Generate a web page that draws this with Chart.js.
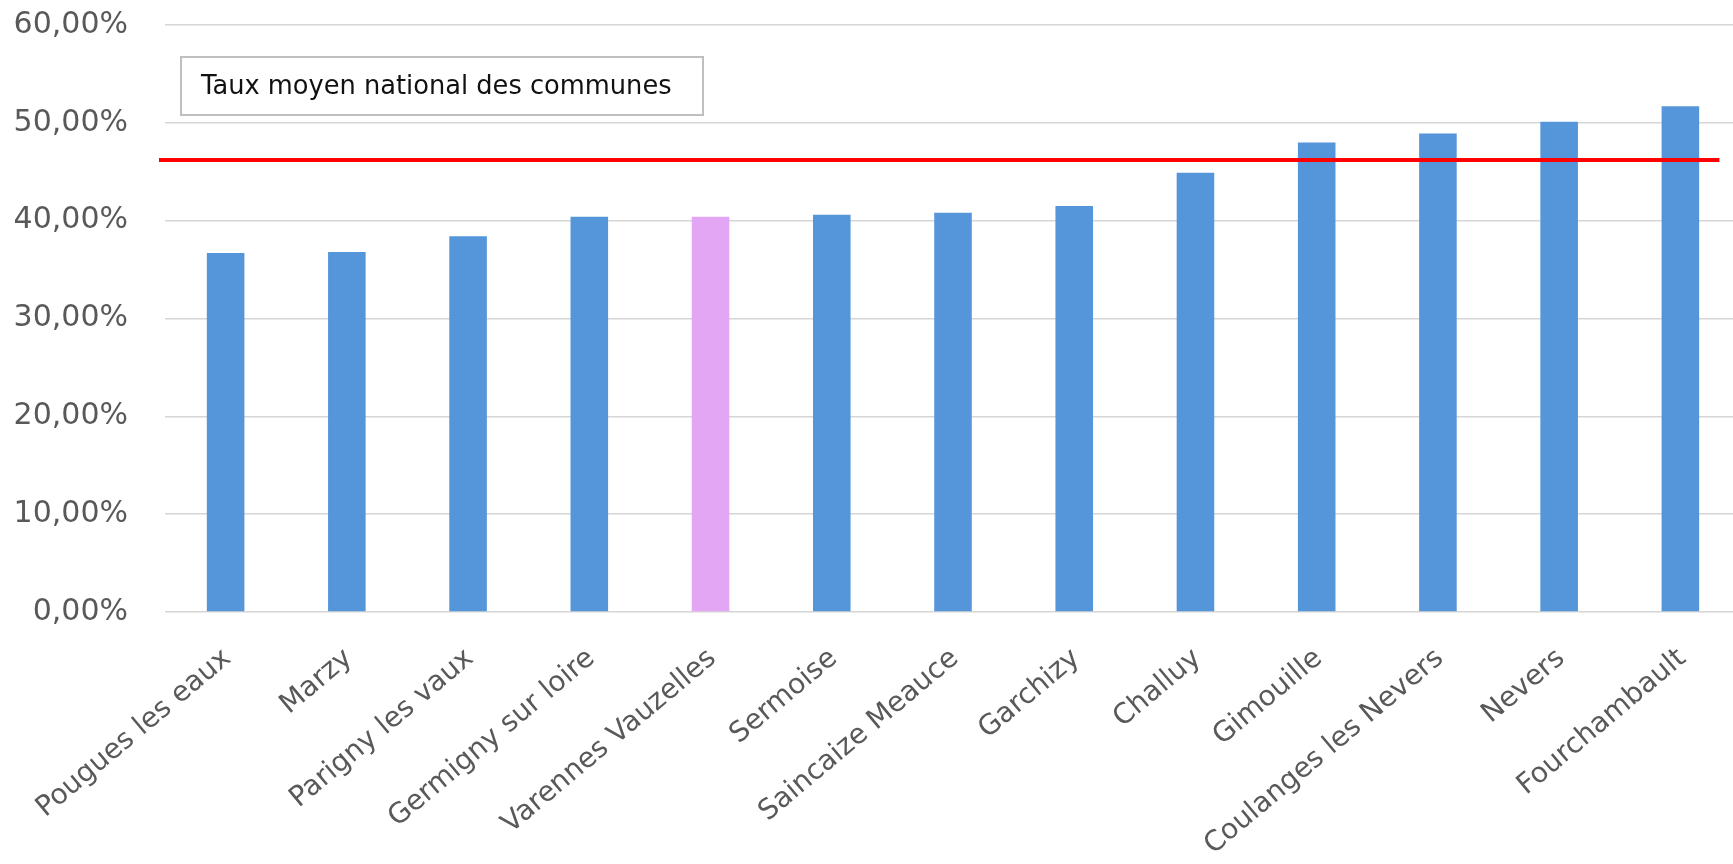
<!DOCTYPE html>
<html>
<head>
<meta charset="utf-8">
<script src="https://cdn.jsdelivr.net/npm/chart.js@4/dist/chart.umd.min.js"></script>
<style>
  html, body { margin: 0; padding: 0; background: #ffffff; overflow: hidden; }
  #wrap { position: relative; width: 1741px; height: 864px; }
</style>
</head>
<body>
<div id="wrap"><canvas id="c"></canvas></div>
<script>
// ---- data ----
const categories = ['Pougues les eaux', 'Marzy', 'Parigny les vaux', 'Germigny sur loire',
  'Varennes Vauzelles', 'Sermoise', 'Saincaize Meauce', 'Garchizy', 'Challuy',
  'Gimouille', 'Coulanges les Nevers', 'Nevers', 'Fourchambault'];
const rates = [36.7, 36.8, 38.4, 40.4, 40.4, 40.6, 40.8, 41.5, 44.9, 48.0, 48.9, 50.1, 51.7];
const highlighted = ['Varennes Vauzelles'];
const nationalRate = 46.2;
const nationalLabel = 'Taux moyen national des communes';
const yTicks = [0, 10, 20, 30, 40, 50, 60];

const BLUE = '#5596da';
const PINK = '#e3a6f5';
const barColors = categories.map(c => highlighted.includes(c) ? PINK : BLUE);

const fmt = v => v.toFixed(2).replace('.', ',') + '%';

const refLine = {
  id: 'refLine',
  afterDatasetsDraw(chart) {
    const { ctx, chartArea, scales } = chart;
    const y = scales.y.getPixelForValue(nationalRate);
    const x0 = chartArea.left - 6;
    const x1 = scales.x.getPixelForValue(categories.length - 1) + 39;
    ctx.save();
    ctx.strokeStyle = '#ff0000';
    ctx.lineWidth = 4;
    ctx.beginPath();
    ctx.moveTo(x0, y);
    ctx.lineTo(x1, y);
    ctx.stroke();
    // label box
    const bx = chartArea.left + 16, by = chartArea.top + 32, bw = 522, bh = 58;
    ctx.fillStyle = '#ffffff';
    ctx.fillRect(bx, by, bw, bh);
    ctx.strokeStyle = '#bfbfbf';
    ctx.lineWidth = 2;
    ctx.strokeRect(bx, by, bw, bh);
    ctx.fillStyle = '#111111';
    ctx.font = '25.7px "DejaVu Sans"';
    ctx.textBaseline = 'middle';
    ctx.textAlign = 'left';
    ctx.fillText(nationalLabel, bx + 20, by + bh / 2 + 1);
    ctx.restore();
  }
};

new Chart(document.getElementById('c'), {
  type: 'bar',
  data: {
    labels: categories,
    datasets: [{
      data: rates,
      backgroundColor: barColors,
      borderWidth: 0,
      barPercentage: 0.31,
      categoryPercentage: 1.0
    }]
  },
  options: {
    responsive: true,
    maintainAspectRatio: false,
    animation: false,
    layout: { padding: { top: 25, right: 0, bottom: 0, left: 0 } },
    plugins: { legend: { display: false }, tooltip: { enabled: false } },
    scales: {
      x: {
        grid: { display: false, drawTicks: false },
        border: { display: false },
        ticks: {
          color: '#595959',
          font: { family: '"DejaVu Sans"', size: 28 },
          maxRotation: 40,
          minRotation: 40,
          padding: 30,
          labelOffset: 2,
          autoSkip: false
        },
        afterFit(s) { s.height = 864 - 612; }
      },
      y: {
        min: 0,
        max: 60,
        afterBuildTicks(s) { s.ticks = yTicks.map(v => ({ value: v })); },
        grid: { color: '#d6d6d6', lineWidth: 1.5, drawTicks: false },
        border: { display: false },
        ticks: {
          color: '#595959',
          font: { family: '"DejaVu Sans"', size: 30 },
          padding: 37,
          callback: v => fmt(v)
        },
        afterFit(s) { s.width = 165; s.paddingTop = 0; s.paddingBottom = 0; }
      }
    }
  },
  plugins: [refLine]
});
</script>
</body>
</html>
